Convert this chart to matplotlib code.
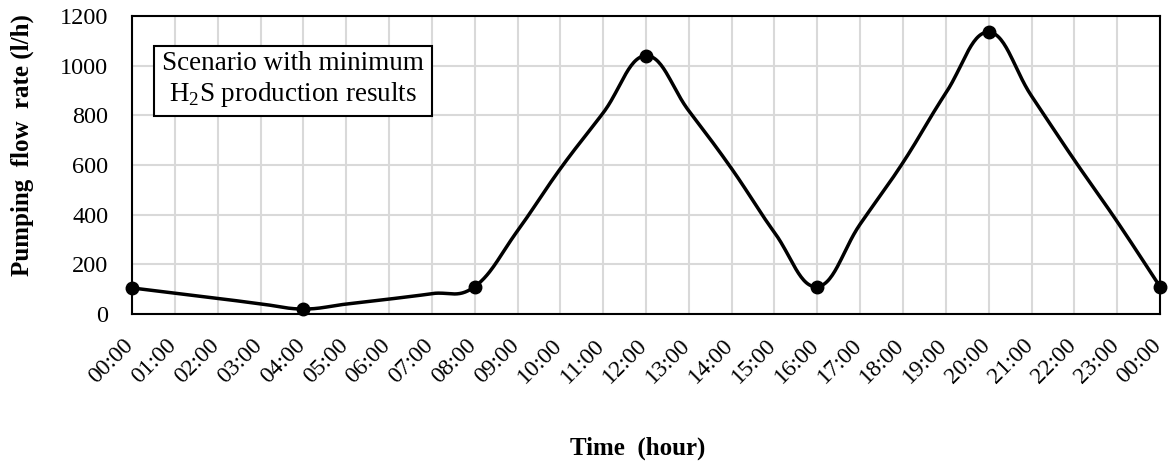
import numpy as np
import matplotlib
matplotlib.use("Agg")
import matplotlib.pyplot as plt
from matplotlib.transforms import ScaledTranslation

hours = list(range(25))
flow = [105, 84, 63, 41, 20, 40, 60, 82, 110, 335, 585, 810, 1040,
        818, 585, 328, 110, 362, 610, 890, 1135, 878, 620, 372, 110]
tick_labels = [f"{h % 24:02d}:00" for h in hours]
marker_hours = [0, 4, 8, 12, 16, 20, 24]

plt.rcParams['font.family'] = ['Liberation Serif', 'DejaVu Serif']

def catmull_rom(x, y, n=30, tension=0.5):
    x = np.asarray(x, float); y = np.asarray(y, float)
    xs, ys = [], []
    for i in range(len(x) - 1):
        p0 = (x[i-1], y[i-1]) if i > 0 else (x[i], y[i])
        p1 = (x[i], y[i]); p2 = (x[i+1], y[i+1])
        p3 = (x[i+2], y[i+2]) if i + 2 < len(x) else (x[i+1], y[i+1])
        c1 = (p1[0] + (p2[0]-p0[0])*tension/3, p1[1] + (p2[1]-p0[1])*tension/3)
        c2 = (p2[0] - (p3[0]-p1[0])*tension/3, p2[1] - (p3[1]-p1[1])*tension/3)
        t = np.linspace(0, 1, n, endpoint=(i == len(x)-2))
        b0 = (1-t)**3; b1 = 3*(1-t)**2*t; b2 = 3*(1-t)*t**2; b3 = t**3
        xs.append(b0*p1[0] + b1*c1[0] + b2*c2[0] + b3*p2[0])
        ys.append(b0*p1[1] + b1*c1[1] + b2*c2[1] + b3*p2[1])
    return np.concatenate(xs), np.concatenate(ys)

fig = plt.figure(figsize=(11.68, 4.67), dpi=100)
ax = fig.add_axes([132/1168, 1-314/467, (1160-132)/1168, (314-16)/467])

sx, sy = catmull_rom(hours, flow, tension=0.6)
ax.plot(sx, sy, color='black', lw=2.5, zorder=3, clip_on=False)
ax.plot(marker_hours, [flow[h] for h in marker_hours], 'o', color='black',
        ms=9, zorder=4, clip_on=False)

ax.set_xlim(0, 24)
ax.set_ylim(0, 1200)
ax.set_xticks(hours)
ax.set_yticks(range(0, 1201, 200))
ax.tick_params(axis='y', labelsize=17.5, length=0, pad=17)
ax.tick_params(axis='x', length=0, pad=15)
ax.set_xticklabels(tick_labels, rotation=45, ha='right', va='top',
                   rotation_mode='anchor', fontsize=17)
shift = ScaledTranslation(-9/100, 0, fig.dpi_scale_trans)
for lab in ax.get_xticklabels():
    lab.set_transform(lab.get_transform() + shift)
ax.grid(True, color='#d9d9d9', lw=1.5)
ax.set_axisbelow(True)
for s in ax.spines.values():
    s.set_linewidth(1.5)
    s.set_color('black')

fig.text(22/1168, 1-145/467, 'Pumping  flow  rate (l/h)', fontsize=18,
         fontweight='bold', rotation=90, ha='center', va='center')
fig.text(638/1168, 1-448/467, 'Time  (hour)', fontsize=18, fontweight='bold',
         ha='center', va='center')

ax.text((293-132)/(1160-132), (314-80)/298,
        'Scenario with minimum\nH$_\\mathregular{2}$S production results',
        transform=ax.transAxes, ha='center', va='center', fontsize=19.5,
        linespacing=1.15,
        bbox=dict(boxstyle='square,pad=0.28', fc='white', ec='black', lw=1.5),
        zorder=5)

fig.savefig('out.png', dpi=100)
